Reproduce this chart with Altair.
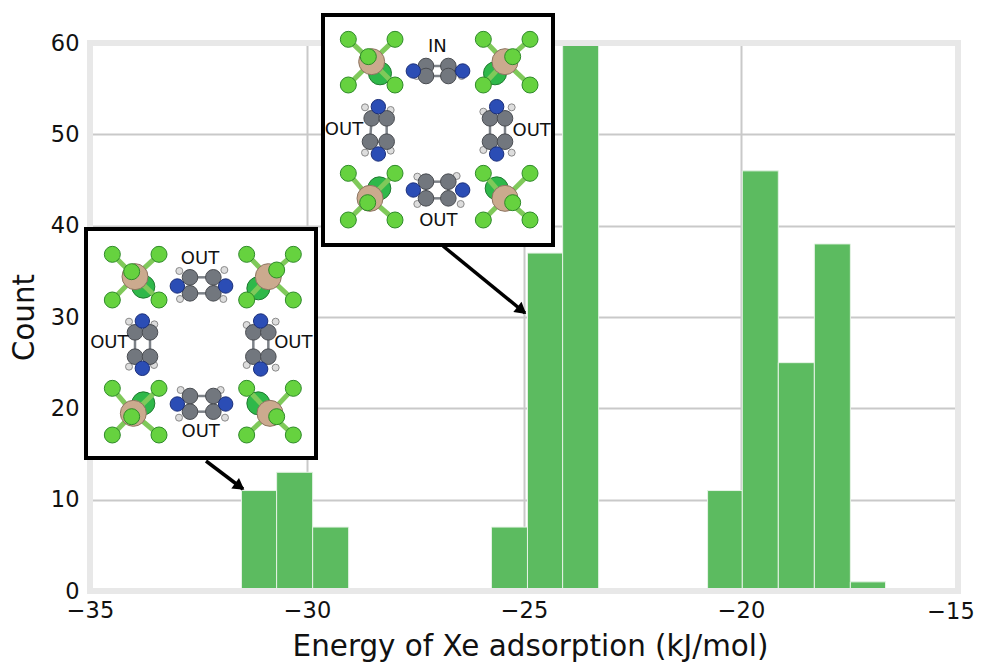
import altair as alt
import pandas as pd

# ---------- histogram ----------
bin_edges = [[-31.51, -30.70, -29.87, -29.04],
             [-25.75, -24.92, -24.11, -23.28],
             [-20.77, -19.97, -19.14, -18.31, -17.48, -16.67]]
bin_counts = [[11, 13, 7],
              [7, 37, 60],
              [11, 46, 25, 38, 1]]
x_ticks = [-35, -30, -25, -20]
y_ticks = [0, 10, 20, 30, 40, 50, 60]
last_x_label = [{"x": -15, "y": 0, "t": "\u221215"}]

# ---------- inset contents (units: inset drawing units, 3 per pixel) ----------
inset_origin = [(320, 10), (80, 225)]
inset_box = [(323, 553, 15, 245), (86, 316, 229, 458)]
inset_labels = [
    [("IN", 352, 110), ("OUT", 72, 360), ("OUT", 635, 362), ("OUT", 355, 632)],
    [("OUT", 360, 102), ("OUT", 88, 355), ("OUT", 640, 355), ("OUT", 362, 620)],
]
# metal, front F, hidden F, four corner F
clusters = [
    [((155, 155), (145, 140), (180, 190), [(85, 88), (225, 88), (85, 225), (225, 225)]),
     ((555, 155), (578, 140), (525, 190), [(490, 88), (630, 88), (490, 225), (630, 225)]),
     ((150, 565), (143, 578), (178, 535), [(85, 490), (225, 490), (85, 630), (225, 630)]),
     ((555, 565), (578, 578), (530, 535), [(490, 490), (630, 490), (490, 630), (630, 630)])],
    [((165, 155), (155, 140), (190, 185), [(97, 88), (237, 88), (97, 225), (237, 225)]),
     ((565, 155), (590, 135), (535, 190), [(500, 88), (640, 88), (500, 225), (640, 225)]),
     ((160, 565), (155, 575), (190, 535), [(97, 490), (237, 490), (97, 630), (237, 630)]),
     ((570, 565), (590, 575), (535, 535), [(500, 490), (640, 490), (500, 630), (640, 630)])],
]
# nitrogen pair, four carbons, hydrogens
rings = [
    [([(280, 183), (428, 183)], [(318, 168), (318, 198), (385, 168), (385, 198)], [(290, 198), (425, 198)]),
     ([(175, 290), (175, 432)], [(155, 325), (200, 325), (150, 395), (200, 395)], [(135, 292), (212, 300), (135, 428), (212, 422)]),
     ([(530, 290), (530, 432)], [(510, 325), (555, 325), (510, 395), (555, 395)], [(490, 305), (575, 292), (490, 420), (575, 428)]),
     ([(280, 540), (428, 540)], [(318, 515), (318, 565), (385, 515), (385, 565)], [(292, 500), (410, 498), (292, 582), (422, 582)])],
    [([(292, 183), (437, 183)], [(330, 157), (330, 205), (400, 157), (400, 205)], [(298, 138), (433, 135), (300, 222), (430, 222)]),
     ([(187, 288), (187, 430)], [(165, 322), (210, 322), (165, 395), (210, 395)], [(147, 290), (223, 298), (147, 425), (222, 420)]),
     ([(542, 288), (542, 432)], [(520, 322), (565, 322), (520, 395), (565, 395)], [(500, 300), (587, 290), (500, 420), (587, 428)]),
     ([(292, 537), (437, 537)], [(330, 513), (330, 560), (400, 513), (400, 560)], [(302, 495), (422, 495), (297, 578), (435, 578)])],
]
arrows = [((443, 246), (525, 313), 129), ((206, 461), (243, 489), 126)]


def dx(px):
    return -35 + (px - 90) / 43.4


def dy(py):
    return (591 - py) / 9.1333


def local(i, p):
    ox, oy = inset_origin[i]
    return dx(ox + p[0] / 3), dy(oy + p[1] / 3)


x_scale = alt.Scale(domain=[-35, -15], nice=False, zero=False)
y_scale = alt.Scale(domain=[0, 60], nice=False, zero=False)
x_axis = alt.Axis(values=x_ticks, title="Energy of Xe adsorption (kJ/mol)", format="d",
                  grid=True, domain=False, ticks=False, labelPadding=8, titlePadding=11,
                  labelFlush=False, titleX=440)
y_axis = alt.Axis(values=y_ticks, title="Count", format="d", grid=True, domain=False,
                  ticks=False, labelPadding=11, titlePadding=11, labelFlush=False)
X = alt.X("x:Q", scale=x_scale, axis=x_axis)
Y = alt.Y("y:Q", scale=y_scale, axis=y_axis)

# ---------- bars ----------
bars = []
for edges, counts in zip(bin_edges, bin_counts):
    for a, b, c in zip(edges[:-1], edges[1:], counts):
        bars.append({"x": a, "x2": b, "y": c, "y0": 0})
bars = pd.DataFrame(bars)

bar_layer = (
    alt.Chart(bars)
    .mark_rect(color="#5cbb60", stroke="#e6f3e6", strokeWidth=1)
    .encode(x=X, x2="x2:Q", y=Y, y2="y0:Q")
)

frame = (
    alt.Chart(pd.DataFrame({"x": [-35], "x2": [-15], "y": [60], "y0": [0]}))
    .mark_rect(fillOpacity=0, stroke="#e8e8e8", strokeWidth=6)
    .encode(x=X, x2="x2:Q", y=Y, y2="y0:Q")
)

last_label = alt.Chart(pd.DataFrame(last_x_label)).mark_text(
    font="DejaVu Sans", fontSize=22.5, color="#111111", dx=-7, dy=21
).encode(x=X, y=Y, text="t:N")

# ---------- inset data ----------
boxes, ring_bonds, f_bonds, hidden, metals, labels, arrow_lines, heads = [], [], [], [], [], [], [], []
carbon, nitrogen, hydrogen, corner, front = [], [], [], [], []
for i in range(2):
    l, r, t, b = inset_box[i]
    boxes.append({"x": dx(l), "x2": dx(r), "y": dy(t), "y0": dy(b)})
    for txt, a, c in inset_labels[i]:
        x, y = local(i, (a, c))
        labels.append({"x": x, "y": y, "t": txt})
    for metal, fr, hid, corners in clusters[i]:
        mx, my = local(i, metal)
        metals.append({"x": mx, "y": my})
        hx, hy = local(i, hid)
        hidden.append({"x": hx, "y": hy})
        fx, fy = local(i, fr)
        front.append({"x": fx, "y": fy})
        for c in corners:
            cx, cy = local(i, c)
            corner.append({"x": cx, "y": cy})
            f_bonds.append({"x": mx, "y": my, "x2": cx, "y2": cy})
    for ns, cs, hs in rings[i]:
        cc = [local(i, c) for c in cs]
        for u, v in [(0, 2), (1, 3), (0, 1), (2, 3)]:
            ring_bonds.append({"x": cc[u][0], "y": cc[u][1], "x2": cc[v][0], "y2": cc[v][1]})
        carbon += [{"x": c[0], "y": c[1]} for c in cc]
        nitrogen += [dict(zip("xy", local(i, n))) for n in ns]
        hydrogen += [dict(zip("xy", local(i, h))) for h in hs]

for (p0, p1, ang) in arrows:
    arrow_lines.append({"x": dx(p0[0]), "y": dy(p0[1]), "x2": dx(p1[0]), "y2": dy(p1[1])})
    ux, uy = p1[0] - p0[0], p1[1] - p0[1]
    n = (ux ** 2 + uy ** 2) ** 0.5
    heads.append({"x": dx(p1[0] - ux / n * 6), "y": dy(p1[1] - uy / n * 6), "a": ang})


def rects(df, **kw):
    return alt.Chart(pd.DataFrame(df)).mark_rect(**kw).encode(x=X, x2="x2:Q", y=Y, y2="y0:Q")


def rules(df, color, width):
    return alt.Chart(pd.DataFrame(df)).mark_rule(color=color, strokeWidth=width).encode(
        x=X, x2="x2:Q", y=Y, y2="y2:Q")


def dots(df, fill, edge, radius, sw=1.0):
    return alt.Chart(pd.DataFrame(df)).mark_point(
        filled=True, fill=fill, stroke=edge, strokeWidth=sw, opacity=1, size=(2 * radius) ** 2
    ).encode(x=X, y=Y)


arrow_rule = rules(arrow_lines, "#000000", 3.5)
head_layer = alt.Chart(pd.DataFrame(heads)).mark_point(
    shape="triangle", filled=True, color="#000000", opacity=1, size=170
).encode(x=X, y=Y, angle=alt.Angle("a:Q", scale=None))

text_layer = alt.Chart(pd.DataFrame(labels)).mark_text(
    font="DejaVu Sans", fontSize=18, color="#111111"
).encode(x=X, y=Y, text="t:N")

layers = alt.layer(
    bar_layer,
    frame,
    last_label,
    arrow_rule,
    head_layer,
    rects(boxes, fill="#ffffff", stroke="#000000", strokeWidth=4),
    dots(hidden, "#2fb84a", "#1f7a30", 11.5),
    rules(f_bonds, "#7fc95a", 5),
    dots(metals, "#cbaa8e", "#8d7561", 13),
    dots(corner, "#66d23f", "#2f8a2a", 8),
    dots(front, "#66d23f", "#2f8a2a", 8),
    rules(ring_bonds, "#7d8288", 2.5),
    dots(hydrogen, "#dddddd", "#8a8a8a", 3.5),
    dots(carbon, "#72777e", "#4a4d52", 7.8),
    dots(nitrogen, "#2b4db5", "#1b2f7a", 7.2),
    text_layer,
)

chart = (
    layers.properties(
        width=868,
        height=548,
        padding={"left": 82, "top": 35, "right": 17, "bottom": 71},
        autosize=alt.AutoSizeParams(type="none"),
        background="#ffffff",
    )
    .configure_view(stroke=None)
    .configure_axis(
        gridColor="#c9c9c9", gridWidth=2, labelFont="DejaVu Sans", titleFont="DejaVu Sans",
        labelFontSize=22.5, titleFontSize=29.4, labelColor="#111111", titleColor="#111111",
        titleFontWeight="normal", labelOverlap=False,
    )
)
chart.save("out.html", embed_options={"renderer": "svg", "actions": False})
